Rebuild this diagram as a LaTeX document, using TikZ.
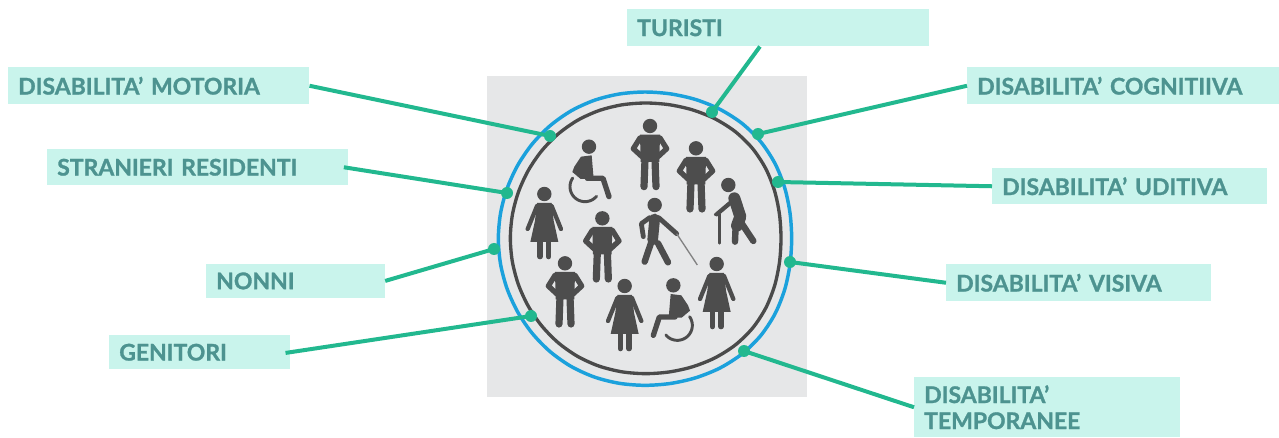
\documentclass[tikz,border=0pt]{standalone}
\usepackage{fontspec}
\setmainfont{Lato}[BoldFeatures={FakeBold=1.2}]
\definecolor{boxfill}{HTML}{C9F4EC}
\definecolor{boxtext}{HTML}{4D9390}
\definecolor{linkgreen}{HTML}{22B88F}
\definecolor{ringblue}{HTML}{1BA1DC}
\definecolor{ringdark}{HTML}{4A4A4A}
\definecolor{panel}{HTML}{E6E7E8}
\definecolor{figdark}{HTML}{4D4D4D}
\newcommand{\wgap}{\hspace{.34em}}
\tikzset{
  labelbox/.style={fill=boxfill,draw=none,anchor=north west,inner xsep=7.5pt,inner ysep=0pt,
    align=left,text=boxtext,font=\fontsize{17.2}{19.5}\selectfont\bfseries},
  linkline/.style={draw=linkgreen,line width=3pt},
  linkdot/.style={circle,fill=linkgreen,draw=none,minimum size=9pt,inner sep=0pt},
  limb/.style={draw=figdark,line cap=round,line join=round},
  man/.pic={
    \fill[figdark] (0,0) circle[radius=5.4pt];
    \fill[figdark] (-30,26) -- (30,26) -- (28,108) -- (-28,108) -- cycle;
    \draw[limb,line width=4pt] (-30,36) -- (-50,68) -- (-24,92);
    \draw[limb,line width=4pt] (30,36) -- (50,68) -- (24,92);
    \draw[limb,line width=5.4pt] (-15,100) -- (-18,182);
    \draw[limb,line width=5.4pt] (15,100) -- (18,182);
  },
  woman/.pic={
    \fill[figdark] (0,0) circle[radius=5.4pt];
    \fill[figdark] (-22,27) -- (22,27) -- (28,80) -- (42,144) -- (-42,144) -- (-28,80) -- cycle;
    \draw[limb,line width=3.2pt] (-22,36) -- (-50,105);
    \draw[limb,line width=3.2pt] (22,36) -- (50,105);
    \draw[limb,line width=4pt] (-13,144) -- (-13,188);
    \draw[limb,line width=4pt] (13,144) -- (13,188);
  },
  wheeler/.pic={
    \fill[figdark] (0,0) circle[radius=5.4pt];
    \fill[figdark] (-24,30) -- (8,26) -- (14,97) -- (-25,97) -- (-50,76) -- (-44,60) -- cycle;
    \draw[limb,line width=4pt] (-5,95) -- (42,95) -- (60,150);
    \draw[limb,line width=2.2pt] plot[domain=40:215,samples=30] ({-12+45*cos(\x)},{120+45*sin(\x)});
  },
  walker/.pic={
    \fill[figdark] (0,0) circle[radius=5.4pt];
    \draw[limb,line width=8pt] (0,42) -- (-6,105);
    \draw[limb,line width=3.6pt] (-15,38) -- (-40,56) -- (-34,95);
    \draw[limb,line width=3.6pt] (12,38) -- (66,86);
    \draw[limb,line width=4.8pt] (-8,105) -- (-30,170);
    \draw[limb,line width=4.8pt] (10,115) -- (40,172);
    \draw[draw=figdark!70,line width=1pt] (66,86) -- (128,180);
  },
  elder/.pic={
    \fill[figdark] (0,0) circle[radius=5.4pt];
    \draw[limb,line width=9pt] (18,40) -- (36,95) -- (26,122);
    \draw[limb,line width=3.2pt] (10,50) -- (-35,88);
    \draw[limb,line width=4.8pt] (22,122) -- (20,170);
    \draw[limb,line width=4.8pt] (38,112) -- (75,168);
    \draw[limb,line width=1.8pt] (-40,88) -- (-27,88) (-27,88) -- (-27,175);
  }
}
\begin{document}
\begin{tikzpicture}[x=0.75pt,y=-0.75pt]
\useasboundingbox (0,0) rectangle (1279,438);
\fill[panel] (487,76) rectangle (807,397);
% rings
\begin{scope}[shift={(480,70)},x=.25pt,y=-.25pt]
  \draw[ringblue,line width=2.6pt] plot[smooth cycle,domain=0:350,samples=36]
    ({495+(440+7.5*(1+cos(\x))*sin(2*\x)*sin(2*\x))*cos(\x)},{506+(440+7.5*(1+cos(\x))*sin(2*\x)*sin(2*\x))*sin(\x)});
  \draw[ringdark,line width=2.5pt] plot[smooth cycle,domain=0:350,samples=36]
    ({497+(406+7.5*(1+cos(\x))*sin(2*\x)*sin(2*\x))*cos(\x)},{505+(406+7.5*(1+cos(\x))*sin(2*\x)*sin(2*\x))*sin(\x)});
  \pic at (510,168) {man};
  \pic at (648,235) {man};
  \pic at (367,445) {man};
  \pic at (255,580) {man};
  \pic at (193,372) {woman};
  \pic at (434,648) {woman};
  \pic at (710,582) {woman};
  \pic at (327,230) {wheeler};
  \pic[xscale=-1] at (580,646) {wheeler};
  \pic at (524,405) {walker};
  \pic at (745,345) {elder};
\end{scope}
% labels
\node[labelbox,text width=210.75pt,minimum height=27.75pt] (mot) at (8,67) {DISABILITA'\wgap MOTORIA};
\node[labelbox,text width=210.75pt,minimum height=27pt] (str) at (47,149) {STRANIERI RESIDENTI};
\node[labelbox,text width=119pt,minimum height=25pt] (non) at (206,264) {NONNI};
\node[labelbox,text width=120.5pt,minimum height=25.5pt] (gen) at (109,335) {GENITORI};
\node[labelbox,text width=211pt,minimum height=27.75pt] (tur) at (627,9) {TURISTI};
\node[labelbox,text width=219pt,minimum height=27.75pt] (cog) at (967,67) {DISABILITA'\wgap COGNITIIVA};
\node[labelbox,text width=191pt,minimum height=27pt] (udi) at (992,168) {DISABILITA'\wgap UDITIVA};
\node[labelbox,text width=183.5pt,minimum height=27.75pt] (vis) at (946,264) {DISABILITA'\wgap VISIVA};
\node[labelbox,text width=184.5pt,minimum height=45pt] (tem) at (914,377) {DISABILITA'\\TEMPORANEE};
% dots
\node[linkdot] (dmot) at (550,136) {};
\node[linkdot] (dstr) at (507,193) {};
\node[linkdot] (dnon) at (494,249) {};
\node[linkdot] (dgen) at (531,316) {};
\node[linkdot] (dtur) at (712,112) {};
\node[linkdot] (dcog) at (758,134) {};
\node[linkdot] (dudi) at (778,182) {};
\node[linkdot] (dvis) at (790,262) {};
\node[linkdot] (dtem) at (744,351) {};
% connectors
\draw[linkline] (mot.east) -- (dmot.center);
\draw[linkline] ([xshift=-3.5pt]str.east) -- (dstr.center);
\draw[linkline] (non.east) -- (dnon.center);
\draw[linkline] ([xshift=-3.5pt,yshift=-.5pt]gen.east) -- (dgen.center);
\draw[linkline] ([xshift=-13.5pt]tur.south) -- (dtur.center);
\draw[linkline] (cog.west) -- (dcog.center);
\draw[linkline] (udi.west) -- (dudi.center);
\draw[linkline] (vis.west) -- (dvis.center);
\draw[linkline] (tem.west) -- (dtem.center);
\end{tikzpicture}
\end{document}
